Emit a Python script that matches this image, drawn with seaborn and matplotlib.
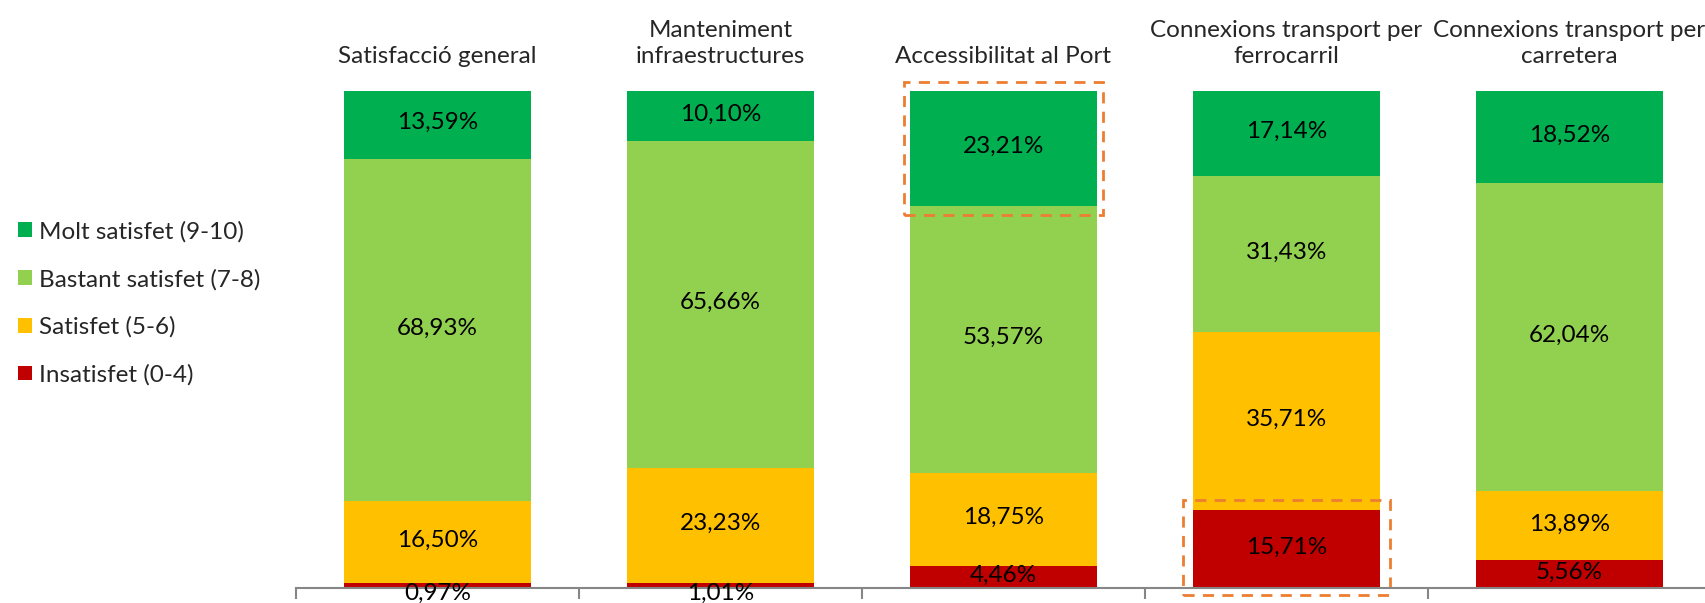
import numpy as np
import pandas as pd
import seaborn as sns
import matplotlib.pyplot as plt
from matplotlib.patches import Patch, Rectangle

# dades
categories = ['Satisfacció general', 'Manteniment\ninfraestructures', 'Accessibilitat al Port',
              'Connexions transport per\nferrocarril', 'Connexions transport per\ncarretera']
series = ['Molt satisfet (9-10)', 'Bastant satisfet (7-8)', 'Satisfet (5-6)', 'Insatisfet (0-4)']
molt = [13.59, 10.10, 23.21, 17.14, 18.52]
bastant = [68.93, 65.66, 53.57, 31.43, 62.04]
satisfet = [16.50, 23.23, 18.75, 35.71, 13.89]
insatisfet = [0.97, 1.01, 4.46, 15.71, 5.56]
colors = ['#00B050', '#92D050', '#FFC000', '#C00000']

sns.set_style("white")
plt.rcParams['font.family'] = ['Lato', 'DejaVu Sans']

fig = plt.figure(figsize=(17.06, 6.03), dpi=100)
ax = fig.add_axes([296 / 1706, 15 / 603, 1415 / 1706, 497 / 603])

vals = [molt, bastant, satisfet, insatisfet]
# stacked from the bottom: insatisfet, satisfet, bastant, molt
cum = np.cumsum(np.array(vals[::-1]), axis=0)[::-1]
idx = list(range(len(categories)))
for k in range(len(series)):
    df = pd.DataFrame({'cat': idx, 'v': cum[k]})
    sns.barplot(data=df, x='cat', y='v', color=colors[k], width=0.66,
                saturation=1, ax=ax, linewidth=0, native_scale=True)

# etiquetes
fs = 17.5
for k in range(len(series)):
    for i in idx:
        v = vals[k][i]
        top = cum[k][i]
        yc = top - v / 2 + 0.4
        if v < 2:
            yc = -1.1
        ax.text(i, yc, f"{v:.2f}".replace('.', ',') + '%', ha='center', va='center',
                fontsize=fs, color='black', clip_on=False)

for i, c in enumerate(categories):
    ax.text(i, 105.6, c, ha='center', va='baseline', fontsize=fs, linespacing=1.33)

# marcs discontinus
orange = '#ED7D31'
r1 = Rectangle((2 - 0.35, cum[1][2] - 1.8), 0.70, 100 + 1.8 - (cum[1][2] - 1.8),
               fill=False, ls=(0, (4, 3)), lw=2, ec=orange, clip_on=False)
r2 = Rectangle((3 - 0.365, -1.5), 0.73, insatisfet[3] + 3.4,
               fill=False, ls=(0, (4, 3)), lw=2, ec=orange, clip_on=False)
ax.add_patch(r1)
ax.add_patch(r2)

ax.set_xlim(-0.5, 4.5)
ax.set_ylim(0, 100)
ax.set_xticks([i - 0.5 for i in range(6)])
ax.set_xticklabels([])
ax.set_yticks([])
ax.set_xlabel('')
ax.set_ylabel('')
for s in ['top', 'left', 'right']:
    ax.spines[s].set_visible(False)
ax.spines['bottom'].set_color('#868686')
ax.spines['bottom'].set_linewidth(1.5)
ax.tick_params(axis='x', direction='out', length=8, width=1.5, color='#868686', bottom=True)

handles = [Patch(facecolor=colors[k], edgecolor='none', label=series[k]) for k in range(4)]
fig.legend(handles=handles, loc='center left', bbox_to_anchor=(-0.002, 0.497), frameon=False,
           fontsize=fs, handlelength=0.55, handleheight=0.55, handletextpad=0.3, labelspacing=1.08)

fig.savefig('out.png', dpi=100)
